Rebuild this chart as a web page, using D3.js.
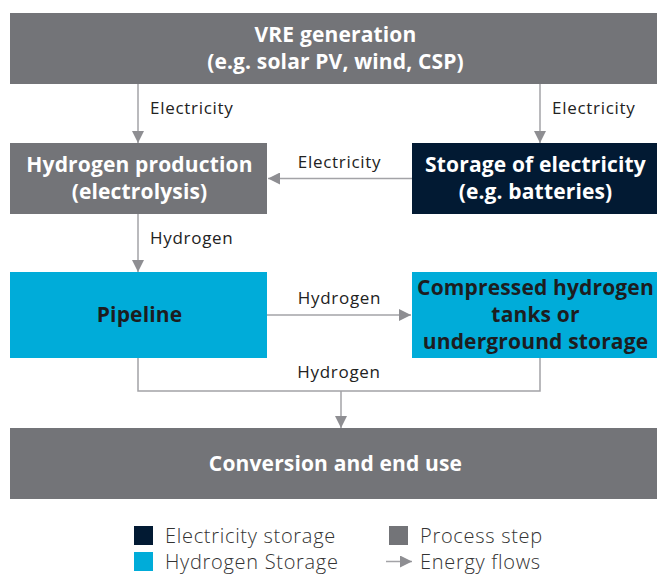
<!DOCTYPE html>
<html>
<head>
<meta charset="utf-8">
<script src="https://cdn.jsdelivr.net/npm/d3@7/dist/d3.min.js"></script>
<style>
  body { margin: 0; background: #fff; }
  text { font-family: "Open Sans", "Noto Sans", sans-serif; }
</style>
</head>
<body>
<div id="chart"></div>
<script>
// boxes of the diagram
const boxIds   = ["vre", "prod", "elec", "pipe", "tank", "use"];
const boxLines = [
  ["VRE generation", "(e.g. solar PV, wind, CSP)"],
  ["Hydrogen production", "(electrolysis)"],
  ["Storage of electricity", "(e.g. batteries)"],
  ["Pipeline"],
  ["Compressed hydrogen", "tanks or", "underground storage"],
  ["Conversion and end use"]
];
const boxTypes = ["process", "process", "electricity", "hydrogen", "hydrogen", "process"];
const boxRows  = [0, 1, 1, 2, 2, 3];
const boxCols  = ["both", "left", "right", "left", "right", "both"];

// energy flows
const flowFrom   = ["vre", "vre", "elec", "prod", "pipe", "pipe|tank"];
const flowTo     = ["prod", "elec", "prod", "pipe", "tank", "use"];
const flowLabels = ["Electricity", "Electricity", "Electricity", "Hydrogen", "Hydrogen", "Hydrogen"];

// legend
const legendLabels = ["Electricity storage", "Hydrogen Storage", "Process step", "Energy flows"];
const legendKinds  = ["electricity", "hydrogen", "process", "flow"];

const width = 659, height = 574;
const color = d3.scaleOrdinal()
  .domain(["process", "electricity", "hydrogen"])
  .range(["#737478", "#021a33", "#00acd9"]);
const textColor = d3.scaleOrdinal()
  .domain(["process", "electricity", "hydrogen"])
  .range(["#ffffff", "#ffffff", "#1d1d1f"]);

const colX = d3.scaleOrdinal().domain(["left", "right", "both"])
  .range([[10, 267], [412, 657], [10, 657]]);
const rowY = d3.scaleOrdinal().domain([0, 1, 2, 3])
  .range([[13, 84], [143, 214], [272, 358], [428, 499]]);
const anchorX = d3.scaleOrdinal().domain(["left", "right"]).range([138, 540]);

const boxes = boxIds.map((id, i) => {
  const [x0, x1] = colX(boxCols[i]);
  const [y0, y1] = rowY(boxRows[i]);
  return {id, lines: boxLines[i], type: boxTypes[i], col: boxCols[i], x0, x1, y0, y1};
});
const byId = Object.fromEntries(boxes.map(b => [b.id, b]));

const svg = d3.select("#chart").append("svg")
  .attr("width", width).attr("height", height);

const lineCol = "#a3a3a7", headCol = "#8e8e92";
svg.append("defs").append("marker")
  .attr("id", "head")
  .attr("viewBox", "0 0 12 12")
  .attr("refX", 12).attr("refY", 6)
  .attr("markerWidth", 12).attr("markerHeight", 12)
  .attr("markerUnits", "userSpaceOnUse")
  .attr("orient", "auto")
  .append("path").attr("d", "M0,0L12,6L0,12Z").attr("fill", headCol);

// boxes
const g = svg.selectAll("g.box").data(boxes).enter().append("g").attr("class", "box");
g.append("rect")
  .attr("x", d => d.x0).attr("y", d => d.y0)
  .attr("width", d => d.x1 - d.x0).attr("height", d => d.y1 - d.y0)
  .attr("fill", d => color(d.type));

const lh = 26.8;
g.append("text")
  .attr("text-anchor", "middle")
  .attr("font-size", 21)
  .attr("font-weight", 700)
  .attr("letter-spacing", 0.15)
  .attr("fill", d => textColor(d.type))
  .selectAll("tspan").data(d => d.lines.map((t, i) => ({t, i, d}))).enter()
  .append("tspan")
  .attr("x", d => (d.d.x0 + d.d.x1) / 2 + (d.d.col === "both" ? 2 : 1))
  .attr("y", d => (d.d.y0 + d.d.y1) / 2 + 7 + (d.i - (d.d.lines.length - 1) / 2) * lh)
  .text(d => d.t);

// flows
const flows = flowFrom.map((f, i) => ({from: f, to: flowTo[i], label: flowLabels[i]}));
const labelStyle = sel => sel.attr("font-size", 17).attr("letter-spacing", 0.7).attr("fill", "#222");

flows.forEach(fl => {
  const tgt = byId[fl.to];
  if (fl.from.includes("|")) {
    // two boxes merging into one
    const [a, b] = fl.from.split("|").map(k => byId[k]);
    const xa = anchorX(a.col), xb = anchorX(b.col);
    const yb = 391;
    svg.append("path")
      .attr("d", d3.line()([[xa, a.y1], [xa, yb], [xb, yb], [xb, b.y1]]))
      .attr("fill", "none").attr("stroke", lineCol).attr("stroke-width", 1.5);
    const xm = (xa + xb) / 2 + 2;
    svg.append("line")
      .attr("x1", xm).attr("y1", yb).attr("x2", xm).attr("y2", tgt.y0)
      .attr("stroke", lineCol).attr("stroke-width", 1.5).attr("marker-end", "url(#head)");
    svg.append("text").call(labelStyle)
      .attr("x", (xa + xb) / 2).attr("y", yb - 13).attr("text-anchor", "middle").text(fl.label);
    return;
  }
  const src = byId[fl.from];
  if (src.y1 < tgt.y0) {
    // downward
    const col = src.col === "both" ? tgt.col : src.col;
    const x = anchorX(col);
    svg.append("line")
      .attr("x1", x).attr("y1", src.y1).attr("x2", x).attr("y2", tgt.y0)
      .attr("stroke", lineCol).attr("stroke-width", 1.5).attr("marker-end", "url(#head)");
    svg.append("text").call(labelStyle)
      .attr("x", x + 12).attr("y", (src.y1 + tgt.y0) / 2 + 0.5).text(fl.label);
  } else {
    // sideways
    const leftToRight = src.x1 < tgt.x0;
    const y = (src.y0 + src.y1) / 2;
    const xs = leftToRight ? src.x1 : src.x0;
    const xt = leftToRight ? tgt.x0 - 1 : tgt.x1 + 1;
    svg.append("line")
      .attr("x1", xs).attr("y1", y).attr("x2", xt).attr("y2", y)
      .attr("stroke", lineCol).attr("stroke-width", 1.5).attr("marker-end", "url(#head)");
    svg.append("text").call(labelStyle)
      .attr("x", ((leftToRight ? src.x1 : tgt.x1) + (leftToRight ? tgt.x0 : src.x0)) / 2)
      .attr("y", y - 11).attr("text-anchor", "middle").text(fl.label);
  }
});

// legend
const legX = d3.scaleOrdinal().domain([0, 1]).range([134, 389]);
const legY = d3.scaleOrdinal().domain([0, 1]).range([526, 552]);
const leg = svg.selectAll("g.leg")
  .data(legendLabels.map((t, i) => ({t, kind: legendKinds[i], c: Math.floor(i / 2), r: i % 2})))
  .enter().append("g").attr("class", "leg")
  .attr("transform", d => `translate(${legX(d.c)},${legY(d.r)})`);
leg.filter(d => d.kind !== "flow").append("rect")
  .attr("width", 19).attr("height", 19).attr("fill", d => color(d.kind));
leg.filter(d => d.kind === "flow").append("line")
  .attr("x1", -3).attr("x2", 23).attr("y1", 9.5).attr("y2", 9.5)
  .attr("stroke", lineCol).attr("stroke-width", 1.5).attr("marker-end", "url(#head)");
leg.append("text")
  .attr("x", 31).attr("y", 16.5)
  .attr("font-size", 20).attr("font-weight", 300).attr("letter-spacing", 0.7).attr("fill", "#333")
  .text(d => d.t);
</script>
</body>
</html>
